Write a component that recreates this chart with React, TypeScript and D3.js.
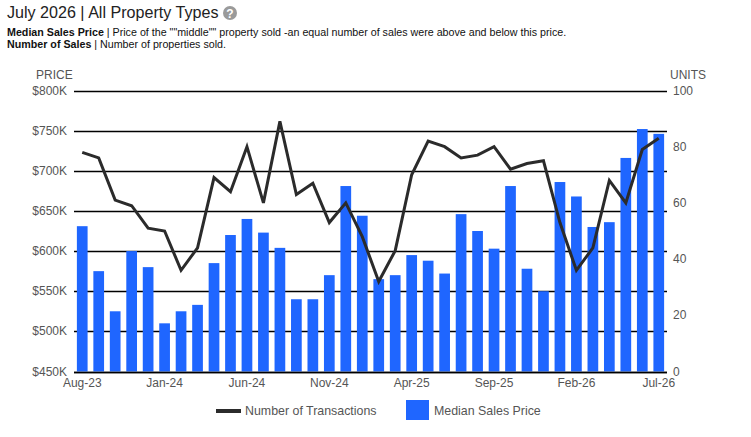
import { useEffect, useRef } from "react";
import * as d3 from "d3";

const months = [
  "Aug-23", "Sep-23", "Oct-23", "Nov-23", "Dec-23", "Jan-24", "Feb-24", "Mar-24", "Apr-24", "May-24", "Jun-24", "Jul-24",
  "Aug-24", "Sep-24", "Oct-24", "Nov-24", "Dec-24", "Jan-25", "Feb-25", "Mar-25", "Apr-25", "May-25", "Jun-25", "Jul-25",
  "Aug-25", "Sep-25", "Oct-25", "Nov-25", "Dec-25", "Jan-26", "Feb-26", "Mar-26", "Apr-26", "May-26", "Jun-26", "Jul-26",
];

// median sales price, in $K
const medianPrice = [
  631, 575, 525, 600, 580, 510, 525, 533, 585, 620, 640, 623,
  604, 540, 540, 570, 681, 644, 565, 570, 595, 588, 572, 646,
  625, 603, 681, 578, 550, 686, 668, 630, 636, 716, 752, 746,
];

// number of transactions
const transactions = [
  78, 76, 61, 59, 51, 50, 36, 44, 69, 64, 80, 60,
  89, 63, 67, 53, 60, 48, 32, 43, 70, 82, 80, 76,
  77, 80, 72, 74, 75, 53, 36, 44, 68, 60, 79, 83,
];

const priceTicks = [450, 500, 550, 600, 650, 700, 750, 800];
const unitTicks = [0, 20, 40, 60, 80, 100];
const xLabels = ["Aug-23", "Jan-24", "Jun-24", "Nov-24", "Apr-25", "Sep-25", "Feb-26", "Jul-26"];

const FONT = "Arial, 'Liberation Sans', sans-serif";
const TEXT = "#555555";
const BAR = "#1f66ff";
const LINE = "#2b2b2b";

export default function App() {
  const svgRef = useRef<SVGSVGElement>(null);

  useEffect(() => {
    document.body.style.margin = "0";
    if (!svgRef.current) return;
    const svg = d3.select(svgRef.current);
    svg.selectAll("*").remove();

    const left = 74;
    const right = 667;
    const top = 90.5;
    const bottom = 371.5;

    const x = d3.scaleBand<string>().domain(months).range([left, right]).paddingInner(0.35).paddingOuter(0.175);
    const yPrice = d3.scaleLinear().domain([450, 800]).range([bottom, top]);
    const yUnits = d3.scaleLinear().domain([0, 100]).range([bottom, top]);

    // title
    svg.append("text").attr("x", 7).attr("y", 18).attr("font-family", FONT).attr("font-size", 16.1)
      .attr("fill", "#222").text("July 2026 | All Property Types");
    const help = svg.append("g").attr("transform", "translate(230,13)");
    help.append("circle").attr("r", 7).attr("fill", "#9a9a9a");
    help.append("text").attr("text-anchor", "middle").attr("y", 4.5).attr("font-family", FONT)
      .attr("font-size", 12).attr("font-weight", "bold").attr("fill", "#fff").text("?");

    const sub1 = svg.append("text").attr("x", 7).attr("y", 36).attr("font-family", FONT).attr("font-size", 10.7).attr("fill", "#111");
    sub1.append("tspan").attr("font-weight", "bold").text("Median Sales Price");
    sub1.append("tspan").text(' | Price of the ""middle"" property sold -an equal number of sales were above and below this price.');
    const sub2 = svg.append("text").attr("x", 7).attr("y", 48).attr("font-family", FONT).attr("font-size", 10.7).attr("fill", "#111");
    sub2.append("tspan").attr("font-weight", "bold").text("Number of Sales");
    sub2.append("tspan").text(" | Number of properties sold.");

    // axis titles
    svg.append("text").attr("x", 36).attr("y", 79).attr("font-family", FONT).attr("font-size", 12)
      .attr("fill", TEXT).text("PRICE");
    svg.append("text").attr("x", 670).attr("y", 79).attr("font-family", FONT).attr("font-size", 12)
      .attr("fill", TEXT).text("UNITS");

    // gridlines + left labels
    svg.append("g").selectAll("line").data(priceTicks).enter().append("line")
      .attr("x1", left).attr("x2", right)
      .attr("y1", (d) => Math.round(yPrice(d)) + 0.5).attr("y2", (d) => Math.round(yPrice(d)) + 0.5)
      .attr("stroke", "#000").attr("stroke-width", 1.3);
    svg.append("g").selectAll("text").data(priceTicks).enter().append("text")
      .attr("x", 67).attr("y", (d) => yPrice(d) + 4).attr("text-anchor", "end")
      .attr("font-family", FONT).attr("font-size", 12).attr("fill", TEXT)
      .text((d) => `$${d}K`);

    // right labels
    svg.append("g").selectAll("text").data(unitTicks).enter().append("text")
      .attr("x", 673).attr("y", (d) => yUnits(d) + 4)
      .attr("font-family", FONT).attr("font-size", 12).attr("fill", TEXT)
      .text((d) => String(d));

    // bars
    svg.append("g").selectAll("rect").data(medianPrice).enter().append("rect")
      .attr("x", (_, i) => x(months[i])!)
      .attr("width", x.bandwidth())
      .attr("y", (d) => yPrice(d))
      .attr("height", (d) => bottom - yPrice(d))
      .attr("fill", BAR);

    // baseline redrawn over bars
    svg.append("line").attr("x1", left).attr("x2", right).attr("y1", Math.round(bottom) + 0.5).attr("y2", Math.round(bottom) + 0.5)
      .attr("stroke", "#000").attr("stroke-width", 1.3);

    // line
    const line = d3.line<number>()
      .x((_, i) => x(months[i])! + x.bandwidth() / 2)
      .y((d) => yUnits(d));
    svg.append("path").datum(transactions).attr("d", line).attr("fill", "none")
      .attr("stroke", LINE).attr("stroke-width", 3).attr("stroke-linejoin", "miter");

    // x labels
    svg.append("g").selectAll("text").data(xLabels).enter().append("text")
      .attr("x", (d) => x(d)! + x.bandwidth() / 2).attr("y", 387).attr("text-anchor", "middle")
      .attr("font-family", FONT).attr("font-size", 12).attr("fill", TEXT)
      .text((d) => d);

    // legend
    svg.append("line").attr("x1", 216).attr("x2", 241).attr("y1", 411).attr("y2", 411)
      .attr("stroke", LINE).attr("stroke-width", 4);
    svg.append("text").attr("x", 245).attr("y", 415).attr("font-family", FONT).attr("font-size", 12.4)
      .attr("fill", TEXT).text("Number of Transactions");
    svg.append("rect").attr("x", 406).attr("y", 400).attr("width", 23).attr("height", 20).attr("fill", BAR);
    svg.append("text").attr("x", 434).attr("y", 415).attr("font-family", FONT).attr("font-size", 12.4)
      .attr("fill", TEXT).text("Median Sales Price");
  }, []);

  return <svg ref={svgRef} width={751} height={437} style={{ display: "block", background: "#fff" }} />;
}
